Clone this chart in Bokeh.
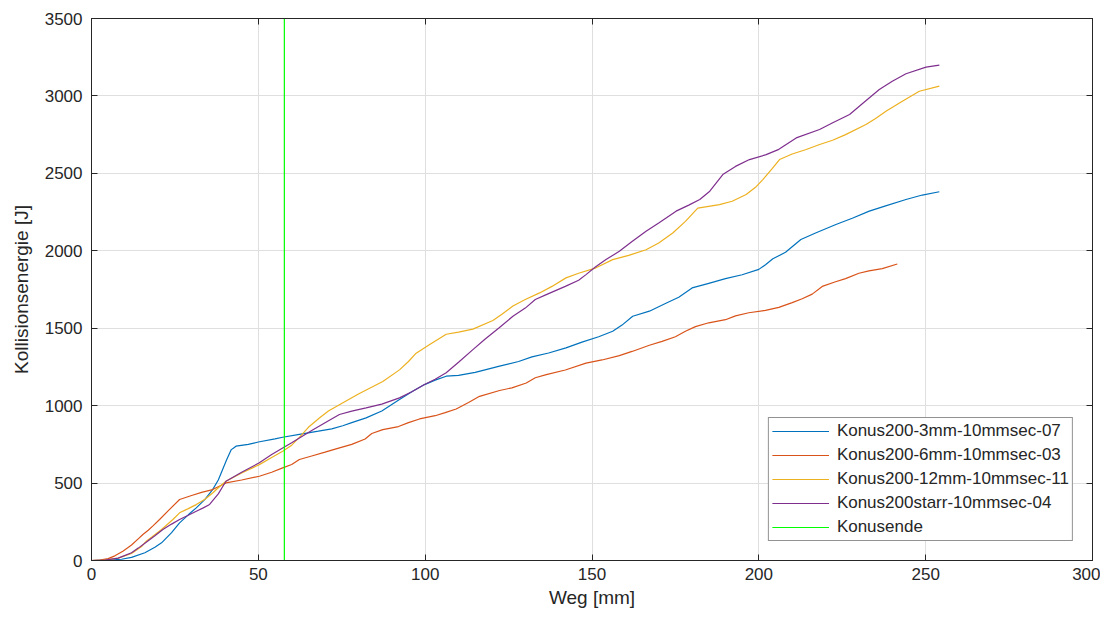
from bokeh.plotting import figure
from bokeh.models import LinearAxis, Range1d, FixedTicker, Legend, LegendItem
from bokeh.embed import file_html
from bokeh.resources import INLINE

x_blue = [0,5,9,12,16,19,21,24,26.4,29,31.4,34,36.3,38,39.3,40.5,41.9,42.5,43.3,47,50,55,57.3,62.3,68,72,75.3,78,82.3,87,92.3,96,99.8,103,106.3,110,115,122.3,128,132,137,142.2,147,152,156.2,159,162.2,167.2,172,176,180,185,190,195,200,202,204.2,208,212.6,217,223.1,228,233.1,238,244.1,249,254.1]
y_blue = [0,2,8,20,50,85,114,180,243,295,340,395,458,520,587,650,716,725,738,750,765,785,796,815,835,850,870,890,921,965,1040,1090,1136,1165,1190,1195,1215,1255,1285,1315,1340,1373,1410,1445,1480,1520,1577,1610,1660,1700,1760,1790,1820,1845,1880,1910,1948,1990,2073,2115,2170,2210,2256,2290,2331,2360,2381]

x_orange = [0,2.5,5,7,9.4,12,14,15.4,17,18.5,20.4,23.4,26.4,30,33,36.3,40.3,45,50.3,54,57.3,60,62.3,66,70,73.3,78,82,84,87.3,92,95,98.3,103,106,109.3,113,116.3,122.3,126,130.3,133,136.3,142,148.2,153,158.2,162,167.2,171,175,178,181,185,190,193,197,202,206,210,213,216,219,223,226,230,233,237,241.5]
y_orange = [0,3,12,30,60,100,140,168,195,225,265,330,394,420,440,458,501,520,544,570,598,620,652,675,700,721,750,785,820,845,865,890,914,935,955,978,1020,1060,1098,1115,1146,1180,1200,1230,1275,1295,1323,1350,1390,1415,1445,1480,1510,1535,1555,1580,1600,1615,1635,1665,1690,1720,1770,1800,1820,1855,1870,1885,1915]

x_yellow = [0,4,8,12,15,16.4,18,21,24.4,26.4,29,31.4,34,36.3,38,40.3,45,50.3,54,57.3,60,62.3,65,68.3,71,74.3,80,87.3,92.3,95,97.3,101,106.3,110,114.3,120.3,123,126.3,130,134.3,138,142.2,146,151.2,156.2,161,166.2,170,174.2,178,181.7,188.2,192,196.2,199,201.2,204,206.2,210,214.2,218,222.1,226,232.1,235,238.1,243,248.1,254.1]
y_yellow = [0,3,15,45,90,125,150,200,265,308,335,361,395,436,470,512,565,619,665,705,745,795,860,920,965,1006,1075,1156,1231,1285,1339,1390,1461,1475,1494,1550,1590,1644,1685,1728,1770,1825,1855,1890,1943,1970,2007,2050,2115,2190,2276,2298,2320,2363,2410,2460,2530,2589,2625,2654,2685,2714,2750,2815,2855,2901,2965,3030,3063]

x_purple = [0,4,8,12,14,16.4,19,21.4,24,26.4,29,31.4,33.5,35.4,38,40.3,45,50.3,54,57.3,60,62.3,66,70,74.3,78,82.3,87,92.3,96,99.8,103,106.3,110,114.3,118,122,126.3,130,133,136.3,142,146,148.2,151,154.2,158.2,162,166.2,170,175.2,179,182.3,185.3,189.2,193,197.2,202.2,206,211.2,218.2,222,227.2,231,236.1,240,244.1,250.1,254.1]
y_purple = [0,3,15,50,80,118,160,200,235,265,292,318,340,362,430,512,570,631,685,727,760,791,840,890,943,965,986,1010,1050,1090,1136,1170,1212,1280,1362,1430,1500,1577,1630,1685,1717,1770,1810,1846,1895,1943,1997,2060,2126,2180,2256,2295,2331,2385,2492,2545,2589,2621,2655,2729,2783,2825,2880,2950,3041,3095,3143,3186,3199]

konusende_x = 57.8

labels = ["Konus200-3mm-10mmsec-07", "Konus200-6mm-10mmsec-03",
          "Konus200-12mm-10mmsec-11", "Konus200starr-10mmsec-04", "Konusende"]
colors = ["#0072BD", "#D95319", "#EDB120", "#7E2F8E", "#00FF00"]
x_ticks = [0, 50, 100, 150, 200, 250, 300]
y_ticks = [0, 500, 1000, 1500, 2000, 2500, 3000, 3500]

FONT = "Liberation Sans"
TXT = "#262626"

p = figure(output_backend="svg", toolbar_location=None,
           x_range=Range1d(0, 300), y_range=Range1d(0, 3500),
           min_border_left=91, min_border_right=8, min_border_top=18, min_border_bottom=10)
p.frame_width = 1001
p.frame_height = 542
p.background_fill_color = "white"
p.outline_line_color = TXT
p.outline_line_width = 1

for ax in (p.xaxis[0], p.yaxis[0]):
    ax.major_label_text_font = FONT
    ax.major_label_text_font_size = "17px"
    ax.major_label_text_color = TXT
    ax.axis_label_text_font = FONT
    ax.axis_label_text_font_size = "19px"
    ax.axis_label_text_font_style = "normal"
    ax.axis_label_text_color = TXT
    ax.axis_line_color = TXT
    ax.major_tick_line_color = TXT
    ax.major_tick_in = 6
    ax.major_tick_out = 0
    ax.minor_tick_line_color = None
p.xaxis[0].ticker = FixedTicker(ticks=x_ticks)
p.yaxis[0].ticker = FixedTicker(ticks=y_ticks)
p.xaxis[0].axis_label = "Weg [mm]"
p.yaxis[0].axis_label = "Kollisionsenergie [J]"
p.xaxis[0].major_label_standoff = 7
p.yaxis[0].major_label_standoff = 9
p.xaxis[0].axis_label_standoff = 4
p.yaxis[0].axis_label_standoff = 10

for side, tk in (("above", x_ticks), ("right", y_ticks)):
    ax = LinearAxis(ticker=FixedTicker(ticks=tk),
                    major_label_overrides={t: "" for t in tk},
                    major_tick_in=6, major_tick_out=0, minor_tick_line_color=None,
                    axis_line_color=TXT, major_tick_line_color=TXT,
                    major_label_standoff=0)
    p.add_layout(ax, side)

p.xgrid.ticker = FixedTicker(ticks=x_ticks)
p.ygrid.ticker = FixedTicker(ticks=y_ticks)
for g in (p.xgrid[0], p.ygrid[0]):
    g.grid_line_color = "#dfdfdf"
    g.grid_line_width = 1

series = [(x_blue, y_blue), (x_orange, y_orange), (x_yellow, y_yellow), (x_purple, y_purple)]
items = []
for (xs, ys), c, lab in zip(series, colors[:4], labels[:4]):
    r = p.line(xs, ys, line_color=c, line_width=1.2)
    items.append(LegendItem(label=lab, renderers=[r]))
rg = p.line([konusende_x, konusende_x], [0, 3500], line_color=colors[4], line_width=1.2)
items.append(LegendItem(label=labels[4], renderers=[rg]))

legend = Legend(items=items, location="bottom_right", margin=19,
                label_text_font=FONT, label_text_font_size="17px", label_text_color=TXT,
                glyph_width=57, glyph_height=20, label_height=20, spacing=4,
                padding=3, label_standoff=8,
                border_line_color=TXT, border_line_width=1, background_fill_alpha=1)
p.add_layout(legend, "center")

open("out.html", "w").write(file_html(p, INLINE))
